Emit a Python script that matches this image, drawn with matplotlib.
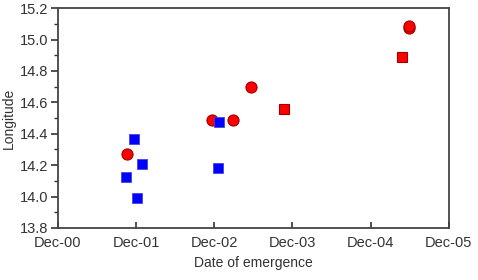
import numpy as np
import matplotlib.pyplot as plt
import matplotlib.dates as mdates
from matplotlib.ticker import MultipleLocator

plt.rcParams['font.family'] = ['Liberation Sans', 'DejaVu Sans']

# blue squares
blue_dates = np.array(['2001-11-22', '2001-12-29', '2001-10-17', '2001-12-05',
                       '2002-12-25', '2002-12-19'], dtype='datetime64[D]')
blue_lon = [14.366, 14.21, 14.126, 13.993, 14.476, 14.18]

# red circles
circ_dates = np.array(['2001-10-22', '2002-11-21', '2003-02-26', '2003-05-24',
                       '2005-05-27', '2005-05-29'], dtype='datetime64[D]')
circ_lon = [14.273, 14.487, 14.487, 14.70, 15.075, 15.085]

# red squares
rsq_dates = np.array(['2003-10-23', '2005-04-25'], dtype='datetime64[D]')
rsq_lon = [14.557, 14.89]

fig = plt.figure(figsize=(4.78, 2.8), dpi=100)
ax = fig.add_axes([0.121, 0.186, 0.818, 0.785])

ax.plot(circ_dates, circ_lon, 'o', ms=8, mfc='#ff0000', mec='#a00000', mew=0.8, ls='none')
ax.plot(rsq_dates, rsq_lon, 's', ms=7, mfc='#ff0000', mec='#a00000', mew=0.8, ls='none')
ax.plot(blue_dates, blue_lon, 's', ms=7, mfc='#0000ff', mec='#4444dd', mew=0.6, ls='none')

ax.set_xlim(np.datetime64('2000-12-01'), np.datetime64('2005-12-01'))
ax.set_ylim(13.8, 15.2)
ax.xaxis.set_major_locator(mdates.MonthLocator(bymonth=12, bymonthday=1))
ax.xaxis.set_major_formatter(mdates.DateFormatter('%b-%y'))
ax.yaxis.set_major_locator(MultipleLocator(0.2))
ax.yaxis.set_minor_locator(MultipleLocator(0.1))
ax.yaxis.set_major_formatter(plt.FormatStrFormatter('%.1f'))

ax.tick_params(axis='x', direction='in', length=4, width=1.2, labelsize=10.5, colors='#333333', pad=6)
ax.tick_params(axis='y', which='major', direction='out', length=5, width=1.2, labelsize=10.5, colors='#333333', pad=2)
ax.tick_params(axis='y', which='minor', direction='out', length=3, width=1.0, colors='#333333')
for s in ax.spines.values():
    s.set_linewidth(1.3)
    s.set_color('#444444')

ax.set_xlabel('Date of emergence', fontsize=10, color='#333333', labelpad=4)
ax.set_ylabel('Longitude', fontsize=10, color='#333333', labelpad=3)

fig.savefig('out.png', dpi=100)
